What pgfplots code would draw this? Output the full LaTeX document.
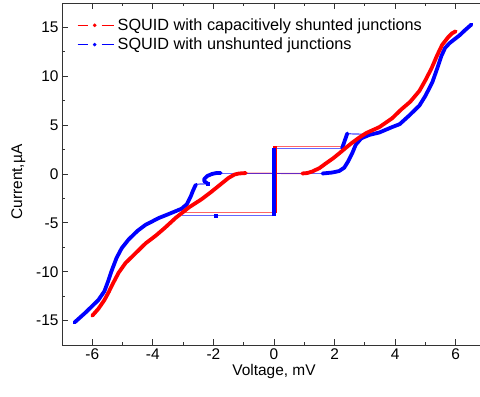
\documentclass[border=0pt]{standalone}
\usepackage{fontspec}
\setmainfont{Liberation Sans}
\usepackage{pgfplots}
\pgfplotsset{compat=1.18}
\definecolor{cred}{RGB}{255,0,0}
\definecolor{cblue}{RGB}{0,0,255}
\newcommand{\lgf}{\fontsize{16.3}{19}\selectfont}
\begin{document}
\begin{tikzpicture}
\begin{axis}[
  name=ax, at={(0,0)}, anchor=south west,
  scale only axis, width=424bp, height=342bp,
  xmin=-7, xmax=7, ymin=-17.5, ymax=17.5,
  xtick={-6,-4,-2,0,2,4,6}, ytick={-15,-10,-5,0,5,10,15},
  minor x tick num=1, minor y tick num=1,
  tick align=inside, major tick length=6bp, minor tick length=3.5bp,
  axis line style={black!80, line width=0.8bp},
  every tick/.style={black!80, line width=0.8bp},
  /pgf/number format/assume math mode=true,
  tick label style={font=\fontsize{15.5}{18}\selectfont},
  label style={font=\fontsize{15.5}{18}\selectfont},
  xlabel={Voltage, mV}, ylabel={Current,µA},
  xlabel style={yshift=2bp},
  ylabel style={yshift=4bp, xshift=-8bp},
  legend style={at={(axis description cs:0,1)}, anchor=north west,
    xshift=15bp, yshift=-14bp, draw=none, fill=none,
    row sep=3bp, column sep=2bp, inner sep=0pt,
    nodes={inner sep=1.5bp}},
  legend image code/.code={\draw[#1,line width=1bp] (0bp,0bp)--(10bp,0bp) (24bp,0bp)--(36bp,0bp); \fill[#1] (17bp,0bp) circle (1.6bp);},
  legend cell align=left,
]
\addlegendimage{cred}
\addlegendentry{\lgf SQUID with capacitively shunted junctions}
\addlegendimage{cblue}
\addlegendentry{\lgf SQUID with unshunted junctions}

% thin switching lines
\addplot[forget plot, cred, line width=1.2bp, opacity=0.6] coordinates {(0,2.85) (2.25,2.85)};
\addplot[forget plot, cred, line width=1.2bp, opacity=0.6] coordinates {(0,-3.9) (-3.1,-3.9)};
\addplot[forget plot, cred, line width=1.2bp, opacity=0.6] coordinates {(-0.93,0.08) (0.93,0.05)};
\addplot[forget plot, cblue, line width=1.2bp, opacity=0.6] coordinates {(0,2.65) (2.25,2.65)};
\addplot[forget plot, cblue, line width=1.2bp, opacity=0.6] coordinates {(0,-4.25) (-3.05,-4.25)};
\addplot[forget plot, cblue, line width=1.2bp, opacity=0.6] coordinates {(-1.76,0.05) (1.6,0.05)};
\addplot[forget plot, cblue, line width=1.2bp, opacity=0.7] coordinates {(2.42,4.12) (3.15,4.05)};
\addplot[forget plot, cblue, line width=1.2bp, opacity=0.7] coordinates {(-2.58,-1.05) (-2.2,-1.0)};
\addplot[forget plot, cblue, only marks, mark=square*, mark size=1.5bp] coordinates {(-1.92,-4.25) (-2.2,-1.0)};

% blue thick branches
\addplot[forget plot, cblue, line width=3.8bp, line join=round, line cap=round] coordinates {
(-6.59,-15.2) (-6.23,-14.2) (-5.8,-12.9) (-5.6,-12.0) (-5.48,-11.0) (-5.36,-9.9)
(-5.2,-8.6) (-5.03,-7.6) (-4.8,-6.7) (-4.5,-5.8) (-4.24,-5.2) (-3.8,-4.5)
(-3.4,-4.0) (-3.05,-3.55) (-2.88,-3.1) (-2.75,-2.3) (-2.66,-1.6) (-2.58,-1.1)};
\addplot[forget plot, cblue, line width=3.8bp, line join=round, line cap=round] coordinates {
(-2.2,-0.95) (-2.3,-0.75) (-2.3,-0.5) (-2.2,-0.2) (-2.05,0.0) (-1.9,0.1) (-1.76,0.1)};
\addplot[forget plot, cblue, line width=3.8bp, line join=round, line cap=round] coordinates {
(1.6,0.05) (1.92,0.15) (2.15,0.3) (2.32,0.65) (2.45,1.3) (2.58,2.1) (2.7,3.0)
(2.88,3.65) (3.15,4.0) (3.48,4.25) (3.9,4.8) (4.15,5.1) (4.47,6.0) (4.8,7.0)
(5.0,8.0) (5.23,9.4) (5.4,10.9) (5.53,12.1) (5.65,12.9) (5.8,13.4) (6.13,14.2)
(6.3,14.7) (6.52,15.3)};
\addplot[forget plot, cblue, line width=3.8bp, line cap=round] coordinates {(2.25,2.65) (2.42,4.15)};

% red thick branches
\addplot[forget plot, cred, line width=3.8bp, line join=round, line cap=round] coordinates {
(-6.0,-14.5) (-5.8,-13.8) (-5.6,-12.9) (-5.46,-12.1) (-5.3,-11.1) (-5.13,-10.1)
(-4.9,-9.1) (-4.7,-8.5) (-4.47,-7.8) (-4.24,-7.1) (-3.9,-6.3) (-3.6,-5.5)
(-3.25,-4.5) (-2.8,-3.4) (-2.4,-2.6) (-2.1,-1.9) (-1.9,-1.4) (-1.7,-0.9)
(-1.5,-0.4) (-1.3,-0.05) (-1.16,0.05) (-0.93,0.1)};
\addplot[forget plot, cred, line width=3.8bp, line join=round, line cap=round] coordinates {
(0.93,0.05) (1.1,0.1) (1.26,0.25) (1.5,0.6) (1.72,1.1) (1.95,1.6) (2.15,2.1)
(2.38,2.7) (2.58,3.2) (2.8,3.7) (3.05,4.2) (3.48,4.8) (3.9,5.7) (4.2,6.6)
(4.5,7.4) (4.8,8.5) (5.0,9.6) (5.2,10.8) (5.38,12.1) (5.55,13.2) (5.75,14.0)
(5.88,14.4) (6.0,14.6)};
\addplot[forget plot, cred, line width=3.8bp] coordinates {(0.04,-3.95) (0.04,2.9)};
\addplot[forget plot, cblue, line width=3.8bp] coordinates {(0,-4.3) (0,2.7)};
\end{axis}
\pgfresetboundingbox
\useasboundingbox (-62bp,-52bp) rectangle (418bp,345bp);
\end{tikzpicture}
\end{document}
